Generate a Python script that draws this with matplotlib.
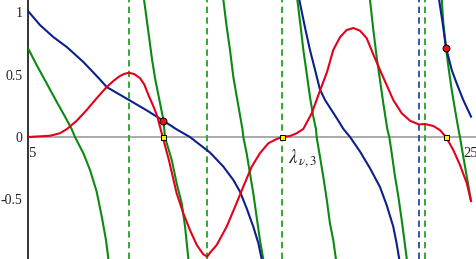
import matplotlib
matplotlib.use("Agg")
import matplotlib.pyplot as plt

plt.rcParams["font.family"] = ["Liberation Serif", "DejaVu Serif"]
plt.rcParams["mathtext.fontset"] = "stix"

RED = "#e3001b"
BLUE = "#0c1f8c"
GREEN = "#0b8a12"
GDASH = "#33a833"
BDASH = "#3a55a8"

# ---------- curves ----------
red_x = [5.0, 6.0, 6.44, 6.76, 7.2, 7.65, 8.1, 8.55, 8.9, 9.15, 9.35, 9.56, 9.8, 10.06, 10.25, 10.45,
         10.65, 10.84, 11.08, 11.36, 11.71, 12.01, 12.31, 12.62, 12.91, 13.09, 13.22, 13.52, 13.97,
         14.35, 14.72, 15.10, 15.47, 15.85, 16.23, 16.48, 16.83, 17.13, 17.43, 17.81, 18.18, 18.5,
         18.78, 19.09, 19.39, 19.69, 19.99, 20.29, 20.59, 20.89, 21.19, 21.49, 21.87, 22.25, 22.65,
         22.92, 23.30, 23.6, 23.87, 24.2, 24.5, 24.81, 25.0]
red_y = [0.0, 0.01, 0.03, 0.064, 0.13, 0.216, 0.31, 0.40, 0.455, 0.488, 0.505, 0.514, 0.503, 0.47,
         0.42, 0.33, 0.25, 0.163, 0.0, -0.184, -0.45, -0.61, -0.744, -0.864, -0.938, -0.957, -0.925,
         -0.864, -0.717, -0.557, -0.397, -0.237, -0.13, -0.05, -0.016, 0.0, 0.008, 0.03, 0.065, 0.19,
         0.37, 0.52, 0.696, 0.80, 0.856, 0.872, 0.85, 0.79, 0.66, 0.536, 0.416, 0.296, 0.19, 0.13,
         0.10, 0.104, 0.088, 0.055, 0.0, -0.104, -0.224, -0.37, -0.512]

blue1_x = [5.0, 5.54, 6.14, 6.75, 7.5, 8.25, 8.55, 9.56, 10.36, 11.11, 11.71, 12.31, 13.22,
           13.82, 14.27, 14.57, 14.87, 15.17, 15.40, 15.55, 15.58]
blue1_y = [1.008, 0.896, 0.80, 0.72, 0.60, 0.46, 0.40, 0.296, 0.213, 0.13, 0.061, 0.0, -0.125,
           -0.237, -0.344, -0.437, -0.57, -0.717, -0.85, -0.976, -1.0]
blue2_x = [17.23, 17.25, 17.5, 17.73, 17.96, 18.18, 18.41, 18.63, 18.94, 19.24, 19.54, 19.99,
           20.44, 20.89, 21.19, 21.49, 21.64, 21.76, 21.78]
blue2_y = [1.12, 1.096, 0.88, 0.696, 0.536, 0.38, 0.296, 0.235, 0.15, 0.064, 0.0, -0.117,
           -0.25, -0.40, -0.544, -0.717, -0.85, -0.976, -1.0]
blue3_x = [23.54, 23.56, 23.72, 23.87, 24.13, 24.35, 24.65, 25.0]
blue3_y = [1.12, 1.096, 0.91, 0.715, 0.536, 0.43, 0.296, 0.163]

green_x = [
    [5.0, 5.39, 5.84, 6.30, 6.67, 6.97, 7.12, 7.50, 7.80, 8.10, 8.33, 8.52, 8.63, 8.65],
    [10.22, 10.24, 10.45, 10.6, 10.75, 11.12, 11.18, 11.49, 11.71, 11.94, 12.09, 12.24, 12.26],
    [13.80, 13.82, 13.97, 14.12, 14.27, 14.45, 14.68, 14.72, 14.87, 15.02, 15.17, 15.32, 15.47, 15.62, 15.64],
    [17.14, 17.16, 17.31, 17.43, 17.58, 17.73, 17.88, 18.0, 18.03, 18.18, 18.33, 18.49, 18.63, 18.78, 18.9, 18.92],
    [20.42, 20.44, 20.59, 20.74, 20.89, 21.04, 21.22, 21.31, 21.42, 21.57, 21.72, 21.87, 21.99, 22.10, 22.12],
    [23.66, 23.68, 23.75, 23.87, 23.98, 24.13, 24.28, 24.43, 24.50, 24.65, 24.81, 25.0],
]
green_y = [
    [0.71, 0.576, 0.43, 0.28, 0.163, 0.064, 0.0, -0.13, -0.264, -0.437, -0.637, -0.824, -0.976, -1.0],
    [1.12, 1.096, 0.82, 0.62, 0.456, 0.13, 0.0, -0.184, -0.37, -0.53, -0.717, -0.976, -1.0],
    [1.12, 1.096, 0.88, 0.696, 0.48, 0.296, 0.064, 0.0, -0.13, -0.29, -0.45, -0.637, -0.824, -0.976, -1.0],
    [1.12, 1.096, 0.88, 0.696, 0.51, 0.32, 0.163, 0.064, 0.0, -0.157, -0.318, -0.504, -0.69, -0.824, -0.976, -1.0],
    [1.12, 1.096, 0.856, 0.64, 0.456, 0.27, 0.064, 0.0, -0.13, -0.318, -0.477, -0.664, -0.824, -0.976, -1.0],
    [1.12, 1.096, 0.91, 0.715, 0.56, 0.376, 0.216, 0.064, 0.0, -0.157, -0.318, -0.512],
]

green_poles = [9.56, 13.08, 16.47, 22.92]
blue_poles = [22.65]

dot_x = [11.11, 23.87]
dot_y = [0.13, 0.715]
zero_x = [11.09, 16.48, 23.87]

yticks = [1, 0.5, 0, -0.5]
ytick_labels = ["1", "0.5", "0", "-0.5"]
xticks = [5, 25]
xtick_labels = ["5", "25"]

# ---------- figure ----------
fig = plt.figure(figsize=(4.77, 2.59), dpi=100)
ax = fig.add_axes([28 / 477, 0, 1 - 28 / 477, 1])
ax.set_xlim(5, 25.27)
ax.set_ylim(-0.976, 1.096)

dash = (0, (3.3, 2.2))
for p in green_poles:
    ax.axvline(p, color=GDASH, lw=1.4, ls=dash, zorder=1)
for p in blue_poles:
    ax.axvline(p, color=BDASH, lw=1.4, ls=dash, zorder=1)

for gx, gy in zip(green_x, green_y):
    ax.plot(gx, gy, color=GREEN, lw=1.5, zorder=3)
ax.plot(blue1_x, blue1_y, color=BLUE, lw=1.5, zorder=3)
ax.plot(blue2_x, blue2_y, color=BLUE, lw=1.5, zorder=3)
ax.plot(blue3_x, blue3_y, color=BLUE, lw=1.5, zorder=3)
ax.plot(red_x, red_y, color=RED, lw=1.5, zorder=4)

ax.plot(dot_x, dot_y, "o", color="#ee1111", mec="black", mew=0.7, ms=5, zorder=6)
ax.plot(zero_x, [0] * len(zero_x), "s", color="#ffee00", mec="black", mew=0.7, ms=3.6, zorder=6)

ax.text(16.72, -0.21, r"$\lambda_{\,\nu,3}$", fontsize=13.5, color="#222222", va="baseline", ha="left")

# axes: y-axis at left edge, x-axis through 0 in grey
for s in ("top", "right"):
    ax.spines[s].set_visible(False)
ax.spines["left"].set_color("#333333")
ax.spines["left"].set_linewidth(1.4)
ax.spines["bottom"].set_position(("data", 0))
ax.spines["bottom"].set_color("#aaaaaa")
ax.spines["bottom"].set_linewidth(1.4)
ax.spines["bottom"].set_zorder(0)

ax.set_yticks(yticks)
ax.set_yticklabels(ytick_labels)
ax.set_xticks(xticks)
ax.set_xticklabels(xtick_labels)
ax.tick_params(axis="y", length=0, pad=4, labelsize=10, labelcolor="#222222")
ax.tick_params(axis="x", length=0, pad=7, labelsize=10.5, labelcolor="#222222")
ax.get_xticklabels()[0].set_ha("left")
ax.set_facecolor("white")

fig.savefig("out.png", dpi=100)
